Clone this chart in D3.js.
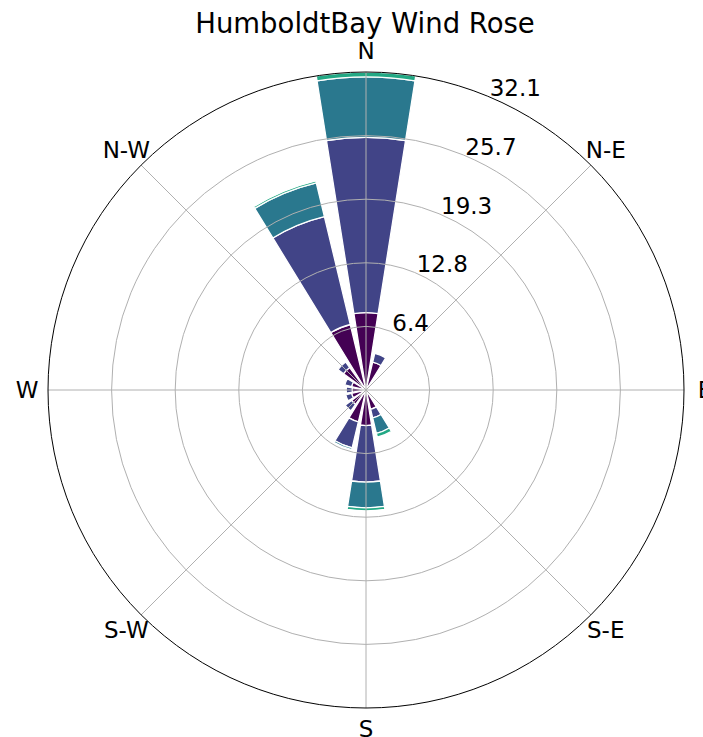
<!DOCTYPE html>
<html>
<head>
<meta charset="utf-8">
<script src="https://cdn.jsdelivr.net/npm/d3@7/dist/d3.min.js"></script>
<style>
  html, body { margin: 0; padding: 0; background: #fff; }
  svg { display: block; font-family: "DejaVu Sans", sans-serif; }
</style>
</head>
<body>
<svg id="rose" width="703" height="737"></svg>
<script>
// Sixteen compass sectors, clockwise from north
const directions = ["N", "NNE", "NE", "ENE", "E", "ESE", "SE", "SSE",
                    "S", "SSW", "SW", "WSW", "W", "WNW", "NW", "NNW"];

// Frequency (%) of each wind-speed bin per sector, stacked outward
const speedBin1 = [7.8, 2.9, 0.3, 0.2, 0.2, 0.2, 0.3, 2.0, 3.6, 3.3, 1.8, 1.5, 1.4, 1.5, 2.8, 6.8];
const speedBin2 = [17.7, 0.9, 0.0, 0.0, 0.0, 0.0, 0.0, 0.9, 5.7, 2.7, 0.8, 0.6, 0.6, 0.7, 0.7, 11.2];
const speedBin3 = [6.1, 0.0, 0.0, 0.0, 0.0, 0.0, 0.0, 1.6, 2.6, 0.2, 0.0, 0.0, 0.0, 0.0, 0.0, 3.5];
const speedBin4 = [0.5, 0.0, 0.0, 0.0, 0.0, 0.0, 0.0, 0.4, 0.3, 0.0, 0.0, 0.0, 0.0, 0.0, 0.0, 0.2];
const speedBins = [speedBin1, speedBin2, speedBin3, speedBin4];
const binColors = ["#440154", "#414487", "#2a788e", "#22a884"];

// Radial ticks and the compass labels on the rim
const radialTicks = [6.42, 12.84, 19.26, 25.68, 32.1];
const compassLabels = ["N", "N-E", "E", "S-E", "S", "S-W", "W", "N-W"];

const svg = d3.select("#rose");
const cx = 366, cy = 390, outerR = 318;
const rMax = d3.max(radialTicks);
const r = d3.scaleLinear().domain([0, rMax]).range([0, outerR]);

const g = svg.append("g").attr("transform", `translate(${cx},${cy})`);

const sector = 2 * Math.PI / directions.length;
const opening = 0.8;
const arc = d3.arc();

// Stacked bars
const stacks = directions.map(() => 0);
speedBins.forEach((bin, bi) => {
  bin.forEach((v, di) => {
    const base = stacks[di];
    stacks[di] += v;
    if (v <= 0) return;
    const mid = di * sector;
    g.append("path")
      .attr("d", arc({
        innerRadius: r(base),
        outerRadius: r(base + v),
        startAngle: mid - sector * opening / 2,
        endAngle: mid + sector * opening / 2
      }))
      .attr("fill", binColors[bi])
      .attr("stroke", "#fff")
      .attr("stroke-width", 1.3);
  });
});

// Grid: rings and spokes above the bars
radialTicks.slice(0, -1).forEach(t => {
  g.append("circle").attr("r", r(t))
    .attr("fill", "none").attr("stroke", "#b0b0b0").attr("stroke-width", 1);
});
d3.range(8).forEach(i => {
  const a = i * Math.PI / 4;
  g.append("line")
    .attr("x1", 0).attr("y1", 0)
    .attr("x2", outerR * Math.sin(a)).attr("y2", -outerR * Math.cos(a))
    .attr("stroke", "#b0b0b0").attr("stroke-width", 1);
});
g.append("circle").attr("r", outerR)
  .attr("fill", "none").attr("stroke", "#000").attr("stroke-width", 1);

// Radial tick labels along 22.5 degrees
const labelAngle = Math.PI / 8;
radialTicks.forEach(t => {
  g.append("text")
    .attr("x", r(t) * Math.sin(labelAngle) + 2)
    .attr("y", -r(t) * Math.cos(labelAngle))
    .attr("text-anchor", "start")
    .attr("font-size", 23)
    .attr("fill", "#000")
    .text(d3.format(".1f")(t));
});

// Compass labels
const labelR = 339;
compassLabels.forEach((lab, i) => {
  const a = i * Math.PI / 4;
  g.append("text")
    .attr("x", labelR * Math.sin(a))
    .attr("y", -labelR * Math.cos(a))
    .attr("text-anchor", "middle")
    .attr("dominant-baseline", "central")
    .attr("font-size", 23)
    .attr("fill", "#000")
    .text(lab);
});

// Title
svg.append("text")
  .attr("x", 365).attr("y", 33)
  .attr("text-anchor", "middle")
  .attr("font-size", 27.5)
  .attr("fill", "#000")
  .text("HumboldtBay Wind Rose");
</script>
</body>
</html>
